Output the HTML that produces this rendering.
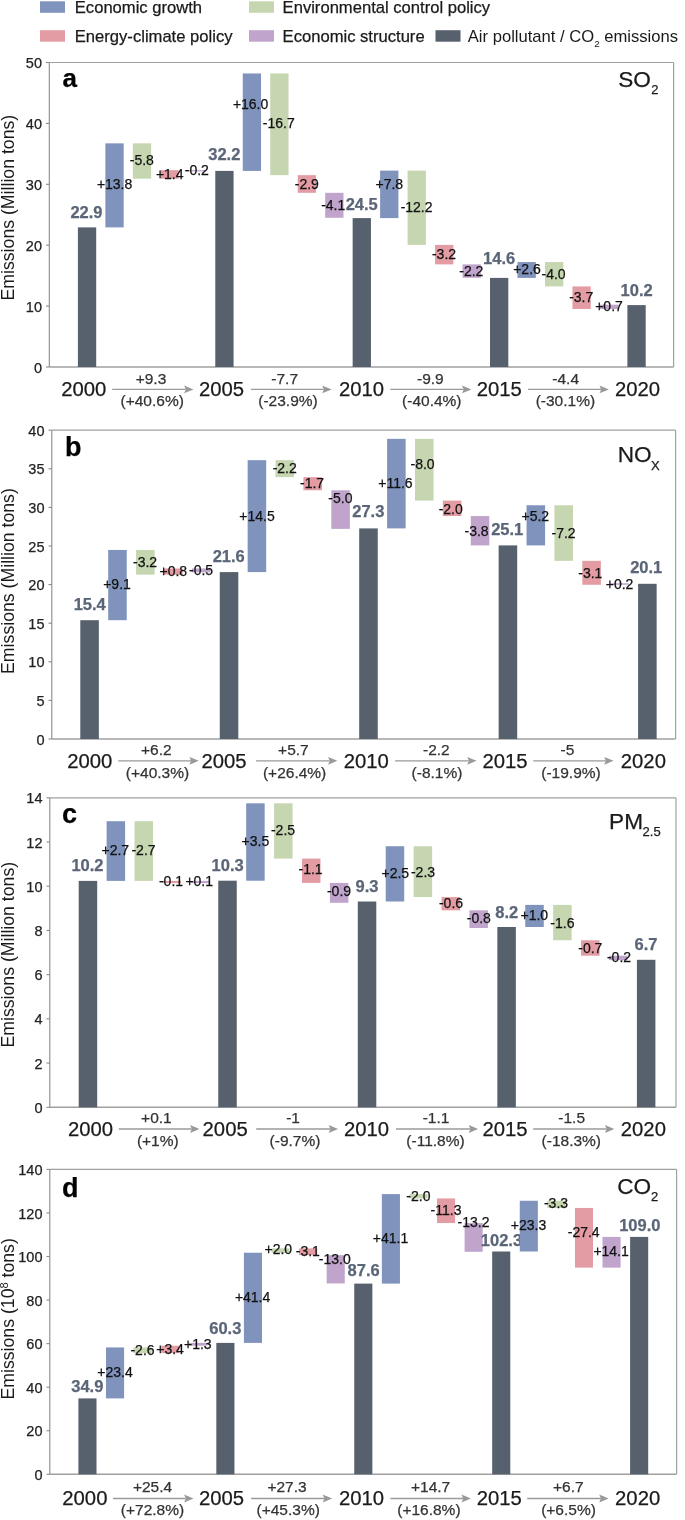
<!DOCTYPE html>
<html><head><meta charset="utf-8"><style>
html,body{margin:0;padding:0;background:#fff;}
body{width:685px;height:1520px;overflow:hidden;}
svg{display:block;font-family:"Liberation Sans", sans-serif;will-change:transform;}
</style></head><body>
<svg width="685" height="1520" viewBox="0 0 685 1520">
<rect x="40.00" y="1.30" width="25.00" height="11.50" fill="#7f93bd"/>
<text x="74.80" y="12.90" font-size="16.6" text-anchor="start" font-weight="normal" fill="#1a1a1a" stroke="#1a1a1a" stroke-width="0.25" >Economic growth</text>
<rect x="249.00" y="1.30" width="25.00" height="11.50" fill="#c6d6b0"/>
<text x="282.60" y="12.90" font-size="16.6" text-anchor="start" font-weight="normal" fill="#1a1a1a" stroke="#1a1a1a" stroke-width="0.25" >Environmental control policy</text>
<rect x="40.00" y="30.20" width="25.00" height="11.50" fill="#e39ca3"/>
<text x="74.80" y="41.70" font-size="16.6" text-anchor="start" font-weight="normal" fill="#1a1a1a" stroke="#1a1a1a" stroke-width="0.25" >Energy-climate policy</text>
<rect x="249.00" y="30.20" width="25.00" height="11.50" fill="#c0a4cc"/>
<text x="282.60" y="41.70" font-size="16.6" text-anchor="start" font-weight="normal" fill="#1a1a1a" stroke="#1a1a1a" stroke-width="0.25" >Economic structure</text>
<rect x="435.50" y="30.20" width="25.00" height="11.50" fill="#57606d"/>
<text x="467.8" y="41.7" font-size="16.6" fill="#1a1a1a">Air pollutant / CO<tspan font-size="9.8" dy="5.2">2</tspan><tspan dy="-5.2"> emissions</tspan></text>
<line x1="49.30" y1="62.50" x2="673.60" y2="62.50" stroke="#a0a0a0" stroke-width="1.2"/>
<line x1="673.60" y1="62.50" x2="673.60" y2="367.00" stroke="#a0a0a0" stroke-width="1.2"/>
<line x1="49.30" y1="367.00" x2="673.60" y2="367.00" stroke="#a0a0a0" stroke-width="1.4"/>
<line x1="49.30" y1="62.50" x2="49.30" y2="367.00" stroke="#8a8a8a" stroke-width="1.1"/>
<line x1="46.00" y1="367.00" x2="49.30" y2="367.00" stroke="#8a8a8a" stroke-width="1.1"/>
<text x="42.00" y="372.57" font-size="14.5" text-anchor="end" font-weight="normal" fill="#222" stroke="#222" stroke-width="0.25" >0</text>
<line x1="46.00" y1="306.10" x2="49.30" y2="306.10" stroke="#8a8a8a" stroke-width="1.1"/>
<text x="42.00" y="311.68" font-size="14.5" text-anchor="end" font-weight="normal" fill="#222" stroke="#222" stroke-width="0.25" >10</text>
<line x1="46.00" y1="245.20" x2="49.30" y2="245.20" stroke="#8a8a8a" stroke-width="1.1"/>
<text x="42.00" y="250.77" font-size="14.5" text-anchor="end" font-weight="normal" fill="#222" stroke="#222" stroke-width="0.25" >20</text>
<line x1="46.00" y1="184.30" x2="49.30" y2="184.30" stroke="#8a8a8a" stroke-width="1.1"/>
<text x="42.00" y="189.88" font-size="14.5" text-anchor="end" font-weight="normal" fill="#222" stroke="#222" stroke-width="0.25" >30</text>
<line x1="46.00" y1="123.40" x2="49.30" y2="123.40" stroke="#8a8a8a" stroke-width="1.1"/>
<text x="42.00" y="128.97" font-size="14.5" text-anchor="end" font-weight="normal" fill="#222" stroke="#222" stroke-width="0.25" >40</text>
<line x1="46.00" y1="62.50" x2="49.30" y2="62.50" stroke="#8a8a8a" stroke-width="1.1"/>
<text x="42.00" y="68.08" font-size="14.5" text-anchor="end" font-weight="normal" fill="#222" stroke="#222" stroke-width="0.25" >50</text>
<text transform="translate(14.2,207.65) rotate(-90)" font-size="17.7" text-anchor="middle" fill="#1a1a1a">Emissions (Million tons)</text>
<text x="62.40" y="87.40" font-size="26" text-anchor="start" font-weight="bold" fill="#000" stroke="#000" stroke-width="0.25" >a</text>
<text x="618.20" y="86.60" font-size="22.6" text-anchor="start" font-weight="normal" fill="#1a1a1a" stroke="#1a1a1a" stroke-width="0.25" >SO</text>
<text x="651.20" y="94.40" font-size="13" text-anchor="start" font-weight="normal" fill="#1a1a1a" stroke="#1a1a1a" stroke-width="0.25" >2</text>
<rect x="77.90" y="227.40" width="18.30" height="139.60" fill="#57606d"/>
<text x="86.50" y="218.18" font-size="16.5" text-anchor="middle" font-weight="bold" fill="#5a6577" stroke="#5a6577" stroke-width="0.25" >22.9</text>
<rect x="105.38" y="143.36" width="18.30" height="84.04" fill="#7f93bd"/>
<text x="114.60" y="189.40" font-size="14" text-anchor="middle" font-weight="normal" fill="#111" stroke="#111" stroke-width="0.25" >+13.8</text>
<rect x="132.85" y="143.36" width="18.30" height="35.32" fill="#c6d6b0"/>
<text x="141.80" y="164.80" font-size="14" text-anchor="middle" font-weight="normal" fill="#111" stroke="#111" stroke-width="0.25" >-5.8</text>
<rect x="160.33" y="170.15" width="18.30" height="8.53" fill="#e39ca3"/>
<text x="169.70" y="178.90" font-size="14" text-anchor="middle" font-weight="normal" fill="#111" stroke="#111" stroke-width="0.25" >+1.4</text>
<rect x="187.80" y="170.15" width="18.30" height="1.22" fill="#c0a4cc"/>
<text x="196.80" y="175.00" font-size="14" text-anchor="middle" font-weight="normal" fill="#111" stroke="#111" stroke-width="0.25" >-0.2</text>
<rect x="215.28" y="170.90" width="18.30" height="196.10" fill="#57606d"/>
<text x="224.30" y="159.97" font-size="16.5" text-anchor="middle" font-weight="bold" fill="#5a6577" stroke="#5a6577" stroke-width="0.25" >32.2</text>
<rect x="242.75" y="73.46" width="18.30" height="97.44" fill="#7f93bd"/>
<text x="250.60" y="109.40" font-size="14" text-anchor="middle" font-weight="normal" fill="#111" stroke="#111" stroke-width="0.25" >+16.0</text>
<rect x="270.23" y="73.46" width="18.30" height="101.70" fill="#c6d6b0"/>
<text x="278.80" y="128.40" font-size="14" text-anchor="middle" font-weight="normal" fill="#111" stroke="#111" stroke-width="0.25" >-16.7</text>
<rect x="297.70" y="175.16" width="18.30" height="17.66" fill="#e39ca3"/>
<text x="306.80" y="188.50" font-size="14" text-anchor="middle" font-weight="normal" fill="#111" stroke="#111" stroke-width="0.25" >-2.9</text>
<rect x="325.18" y="192.82" width="18.30" height="24.97" fill="#c0a4cc"/>
<text x="333.20" y="209.70" font-size="14" text-anchor="middle" font-weight="normal" fill="#111" stroke="#111" stroke-width="0.25" >-4.1</text>
<rect x="352.65" y="218.10" width="18.30" height="148.90" fill="#57606d"/>
<text x="361.70" y="210.28" font-size="16.5" text-anchor="middle" font-weight="bold" fill="#5a6577" stroke="#5a6577" stroke-width="0.25" >24.5</text>
<rect x="380.12" y="170.60" width="18.30" height="47.50" fill="#7f93bd"/>
<text x="389.30" y="189.10" font-size="14" text-anchor="middle" font-weight="normal" fill="#111" stroke="#111" stroke-width="0.25" >+7.8</text>
<rect x="407.60" y="170.60" width="18.30" height="74.30" fill="#c6d6b0"/>
<text x="416.60" y="212.30" font-size="14" text-anchor="middle" font-weight="normal" fill="#111" stroke="#111" stroke-width="0.25" >-12.2</text>
<rect x="435.08" y="244.90" width="18.30" height="19.49" fill="#e39ca3"/>
<text x="444.00" y="258.70" font-size="14" text-anchor="middle" font-weight="normal" fill="#111" stroke="#111" stroke-width="0.25" >-3.2</text>
<rect x="462.55" y="264.38" width="18.30" height="13.40" fill="#c0a4cc"/>
<text x="471.30" y="275.60" font-size="14" text-anchor="middle" font-weight="normal" fill="#111" stroke="#111" stroke-width="0.25" >-2.2</text>
<rect x="490.02" y="277.90" width="18.30" height="89.10" fill="#57606d"/>
<text x="499.10" y="263.77" font-size="16.5" text-anchor="middle" font-weight="bold" fill="#5a6577" stroke="#5a6577" stroke-width="0.25" >14.6</text>
<rect x="517.50" y="262.07" width="18.30" height="15.83" fill="#7f93bd"/>
<text x="527.00" y="273.50" font-size="14" text-anchor="middle" font-weight="normal" fill="#111" stroke="#111" stroke-width="0.25" >+2.6</text>
<rect x="544.98" y="262.07" width="18.30" height="24.36" fill="#c6d6b0"/>
<text x="553.60" y="278.50" font-size="14" text-anchor="middle" font-weight="normal" fill="#111" stroke="#111" stroke-width="0.25" >-4.0</text>
<rect x="572.45" y="286.43" width="18.30" height="22.53" fill="#e39ca3"/>
<text x="581.20" y="302.20" font-size="14" text-anchor="middle" font-weight="normal" fill="#111" stroke="#111" stroke-width="0.25" >-3.7</text>
<rect x="599.92" y="304.70" width="18.30" height="4.26" fill="#c0a4cc"/>
<text x="609.00" y="310.50" font-size="14" text-anchor="middle" font-weight="normal" fill="#111" stroke="#111" stroke-width="0.25" >+0.7</text>
<rect x="627.40" y="305.10" width="18.30" height="61.90" fill="#57606d"/>
<text x="636.60" y="295.77" font-size="16.5" text-anchor="middle" font-weight="bold" fill="#5a6577" stroke="#5a6577" stroke-width="0.25" >10.2</text>
<text x="61.20" y="395.50" font-size="20.3" text-anchor="start" font-weight="normal" fill="#1a1a1a" stroke="#1a1a1a" stroke-width="0.25" >2000</text>
<text x="198.90" y="395.50" font-size="20.3" text-anchor="start" font-weight="normal" fill="#1a1a1a" stroke="#1a1a1a" stroke-width="0.25" >2005</text>
<text x="338.90" y="395.50" font-size="20.3" text-anchor="start" font-weight="normal" fill="#1a1a1a" stroke="#1a1a1a" stroke-width="0.25" >2010</text>
<text x="476.70" y="395.50" font-size="20.3" text-anchor="start" font-weight="normal" fill="#1a1a1a" stroke="#1a1a1a" stroke-width="0.25" >2015</text>
<text x="614.90" y="395.50" font-size="20.3" text-anchor="start" font-weight="normal" fill="#1a1a1a" stroke="#1a1a1a" stroke-width="0.25" >2020</text>
<line x1="112.20" y1="389.40" x2="185.70" y2="389.40" stroke="#9a9a9a" stroke-width="1.3"/>
<path d="M193.50,389.40 L184.10,385.50 L185.80,389.40 L184.10,393.30 Z" fill="#999"/>
<text x="151.00" y="383.70" font-size="15.5" text-anchor="middle" font-weight="normal" fill="#333" stroke="#333" stroke-width="0.25" >+9.3</text>
<text x="152.20" y="406.20" font-size="15.5" text-anchor="middle" font-weight="normal" fill="#333" stroke="#333" stroke-width="0.25" >(+40.6%)</text>
<line x1="250.90" y1="389.40" x2="323.80" y2="389.40" stroke="#9a9a9a" stroke-width="1.3"/>
<path d="M331.60,389.40 L322.20,385.50 L323.90,389.40 L322.20,393.30 Z" fill="#999"/>
<text x="284.70" y="383.70" font-size="15.5" text-anchor="middle" font-weight="normal" fill="#333" stroke="#333" stroke-width="0.25" >-7.7</text>
<text x="288.00" y="406.20" font-size="15.5" text-anchor="middle" font-weight="normal" fill="#333" stroke="#333" stroke-width="0.25" >(-23.9%)</text>
<line x1="390.40" y1="389.40" x2="463.60" y2="389.40" stroke="#9a9a9a" stroke-width="1.3"/>
<path d="M471.40,389.40 L462.00,385.50 L463.70,389.40 L462.00,393.30 Z" fill="#999"/>
<text x="430.40" y="383.70" font-size="15.5" text-anchor="middle" font-weight="normal" fill="#333" stroke="#333" stroke-width="0.25" >-9.9</text>
<text x="431.80" y="406.20" font-size="15.5" text-anchor="middle" font-weight="normal" fill="#333" stroke="#333" stroke-width="0.25" >(-40.4%)</text>
<line x1="528.00" y1="389.40" x2="601.10" y2="389.40" stroke="#9a9a9a" stroke-width="1.3"/>
<path d="M608.90,389.40 L599.50,385.50 L601.20,389.40 L599.50,393.30 Z" fill="#999"/>
<text x="565.70" y="383.70" font-size="15.5" text-anchor="middle" font-weight="normal" fill="#333" stroke="#333" stroke-width="0.25" >-4.4</text>
<text x="565.40" y="406.20" font-size="15.5" text-anchor="middle" font-weight="normal" fill="#333" stroke="#333" stroke-width="0.25" >(-30.1%)</text>
<line x1="51.80" y1="430.20" x2="675.60" y2="430.20" stroke="#a0a0a0" stroke-width="1.2"/>
<line x1="675.60" y1="430.20" x2="675.60" y2="739.00" stroke="#a0a0a0" stroke-width="1.2"/>
<line x1="51.80" y1="739.00" x2="675.60" y2="739.00" stroke="#a0a0a0" stroke-width="1.4"/>
<line x1="51.80" y1="430.20" x2="51.80" y2="739.00" stroke="#8a8a8a" stroke-width="1.1"/>
<line x1="48.50" y1="739.00" x2="51.80" y2="739.00" stroke="#8a8a8a" stroke-width="1.1"/>
<text x="44.50" y="744.58" font-size="14.5" text-anchor="end" font-weight="normal" fill="#222" stroke="#222" stroke-width="0.25" >0</text>
<line x1="48.50" y1="700.40" x2="51.80" y2="700.40" stroke="#8a8a8a" stroke-width="1.1"/>
<text x="44.50" y="705.98" font-size="14.5" text-anchor="end" font-weight="normal" fill="#222" stroke="#222" stroke-width="0.25" >5</text>
<line x1="48.50" y1="661.80" x2="51.80" y2="661.80" stroke="#8a8a8a" stroke-width="1.1"/>
<text x="44.50" y="667.38" font-size="14.5" text-anchor="end" font-weight="normal" fill="#222" stroke="#222" stroke-width="0.25" >10</text>
<line x1="48.50" y1="623.20" x2="51.80" y2="623.20" stroke="#8a8a8a" stroke-width="1.1"/>
<text x="44.50" y="628.78" font-size="14.5" text-anchor="end" font-weight="normal" fill="#222" stroke="#222" stroke-width="0.25" >15</text>
<line x1="48.50" y1="584.60" x2="51.80" y2="584.60" stroke="#8a8a8a" stroke-width="1.1"/>
<text x="44.50" y="590.18" font-size="14.5" text-anchor="end" font-weight="normal" fill="#222" stroke="#222" stroke-width="0.25" >20</text>
<line x1="48.50" y1="546.00" x2="51.80" y2="546.00" stroke="#8a8a8a" stroke-width="1.1"/>
<text x="44.50" y="551.58" font-size="14.5" text-anchor="end" font-weight="normal" fill="#222" stroke="#222" stroke-width="0.25" >25</text>
<line x1="48.50" y1="507.40" x2="51.80" y2="507.40" stroke="#8a8a8a" stroke-width="1.1"/>
<text x="44.50" y="512.98" font-size="14.5" text-anchor="end" font-weight="normal" fill="#222" stroke="#222" stroke-width="0.25" >30</text>
<line x1="48.50" y1="468.80" x2="51.80" y2="468.80" stroke="#8a8a8a" stroke-width="1.1"/>
<text x="44.50" y="474.37" font-size="14.5" text-anchor="end" font-weight="normal" fill="#222" stroke="#222" stroke-width="0.25" >35</text>
<line x1="48.50" y1="430.20" x2="51.80" y2="430.20" stroke="#8a8a8a" stroke-width="1.1"/>
<text x="44.50" y="435.77" font-size="14.5" text-anchor="end" font-weight="normal" fill="#222" stroke="#222" stroke-width="0.25" >40</text>
<text transform="translate(14.2,581.05) rotate(-90)" font-size="17.7" text-anchor="middle" fill="#1a1a1a">Emissions (Million tons)</text>
<text x="65.00" y="456.30" font-size="27" text-anchor="start" font-weight="bold" fill="#000" stroke="#000" stroke-width="0.25" >b</text>
<text x="617.70" y="461.80" font-size="22.6" text-anchor="start" font-weight="normal" fill="#1a1a1a" stroke="#1a1a1a" stroke-width="0.25" >NO</text>
<text x="651.00" y="470.40" font-size="13" text-anchor="start" font-weight="normal" fill="#1a1a1a" stroke="#1a1a1a" stroke-width="0.25" >X</text>
<rect x="80.30" y="620.20" width="18.55" height="118.80" fill="#57606d"/>
<text x="89.70" y="609.77" font-size="16.5" text-anchor="middle" font-weight="bold" fill="#5a6577" stroke="#5a6577" stroke-width="0.25" >15.4</text>
<rect x="108.19" y="549.95" width="18.55" height="70.25" fill="#7f93bd"/>
<text x="117.00" y="589.30" font-size="14" text-anchor="middle" font-weight="normal" fill="#111" stroke="#111" stroke-width="0.25" >+9.1</text>
<rect x="136.08" y="549.95" width="18.55" height="24.70" fill="#c6d6b0"/>
<text x="145.10" y="567.20" font-size="14" text-anchor="middle" font-weight="normal" fill="#111" stroke="#111" stroke-width="0.25" >-3.2</text>
<rect x="163.97" y="568.48" width="18.55" height="6.18" fill="#e39ca3"/>
<text x="173.30" y="575.80" font-size="14" text-anchor="middle" font-weight="normal" fill="#111" stroke="#111" stroke-width="0.25" >+0.8</text>
<rect x="191.86" y="568.48" width="18.55" height="3.86" fill="#c0a4cc"/>
<text x="201.10" y="574.90" font-size="14" text-anchor="middle" font-weight="normal" fill="#111" stroke="#111" stroke-width="0.25" >-0.5</text>
<rect x="219.75" y="572.10" width="18.55" height="166.90" fill="#57606d"/>
<text x="228.70" y="561.57" font-size="16.5" text-anchor="middle" font-weight="bold" fill="#5a6577" stroke="#5a6577" stroke-width="0.25" >21.6</text>
<rect x="247.64" y="460.16" width="18.55" height="111.94" fill="#7f93bd"/>
<text x="257.00" y="520.70" font-size="14" text-anchor="middle" font-weight="normal" fill="#111" stroke="#111" stroke-width="0.25" >+14.5</text>
<rect x="275.53" y="460.16" width="18.55" height="16.98" fill="#c6d6b0"/>
<text x="284.70" y="473.30" font-size="14" text-anchor="middle" font-weight="normal" fill="#111" stroke="#111" stroke-width="0.25" >-2.2</text>
<rect x="303.42" y="477.14" width="18.55" height="13.12" fill="#e39ca3"/>
<text x="312.10" y="487.70" font-size="14" text-anchor="middle" font-weight="normal" fill="#111" stroke="#111" stroke-width="0.25" >-1.7</text>
<rect x="331.31" y="490.27" width="18.55" height="38.60" fill="#c0a4cc"/>
<text x="340.40" y="502.90" font-size="14" text-anchor="middle" font-weight="normal" fill="#111" stroke="#111" stroke-width="0.25" >-5.0</text>
<rect x="359.20" y="528.40" width="18.55" height="210.60" fill="#57606d"/>
<text x="368.30" y="517.48" font-size="16.5" text-anchor="middle" font-weight="bold" fill="#5a6577" stroke="#5a6577" stroke-width="0.25" >27.3</text>
<rect x="387.09" y="438.85" width="18.55" height="89.55" fill="#7f93bd"/>
<text x="395.40" y="488.10" font-size="14" text-anchor="middle" font-weight="normal" fill="#111" stroke="#111" stroke-width="0.25" >+11.6</text>
<rect x="414.98" y="438.85" width="18.55" height="61.76" fill="#c6d6b0"/>
<text x="422.60" y="469.30" font-size="14" text-anchor="middle" font-weight="normal" fill="#111" stroke="#111" stroke-width="0.25" >-8.0</text>
<rect x="442.87" y="500.61" width="18.55" height="15.44" fill="#e39ca3"/>
<text x="450.70" y="513.50" font-size="14" text-anchor="middle" font-weight="normal" fill="#111" stroke="#111" stroke-width="0.25" >-2.0</text>
<rect x="470.76" y="516.05" width="18.55" height="29.34" fill="#c0a4cc"/>
<text x="476.60" y="535.80" font-size="14" text-anchor="middle" font-weight="normal" fill="#111" stroke="#111" stroke-width="0.25" >-3.8</text>
<rect x="498.65" y="545.40" width="18.55" height="193.60" fill="#57606d"/>
<text x="507.20" y="534.98" font-size="16.5" text-anchor="middle" font-weight="bold" fill="#5a6577" stroke="#5a6577" stroke-width="0.25" >25.1</text>
<rect x="526.54" y="505.26" width="18.55" height="40.14" fill="#7f93bd"/>
<text x="535.30" y="520.70" font-size="14" text-anchor="middle" font-weight="normal" fill="#111" stroke="#111" stroke-width="0.25" >+5.2</text>
<rect x="554.43" y="505.26" width="18.55" height="55.58" fill="#c6d6b0"/>
<text x="563.60" y="537.60" font-size="14" text-anchor="middle" font-weight="normal" fill="#111" stroke="#111" stroke-width="0.25" >-7.2</text>
<rect x="582.32" y="560.84" width="18.55" height="23.93" fill="#e39ca3"/>
<text x="590.30" y="577.60" font-size="14" text-anchor="middle" font-weight="normal" fill="#111" stroke="#111" stroke-width="0.25" >-3.1</text>
<rect x="610.21" y="583.23" width="18.55" height="1.54" fill="#c0a4cc"/>
<text x="619.60" y="588.50" font-size="14" text-anchor="middle" font-weight="normal" fill="#111" stroke="#111" stroke-width="0.25" >+0.2</text>
<rect x="638.10" y="583.80" width="18.55" height="155.20" fill="#57606d"/>
<text x="646.20" y="572.98" font-size="16.5" text-anchor="middle" font-weight="bold" fill="#5a6577" stroke="#5a6577" stroke-width="0.25" >20.1</text>
<text x="67.20" y="767.50" font-size="20.3" text-anchor="start" font-weight="normal" fill="#1a1a1a" stroke="#1a1a1a" stroke-width="0.25" >2000</text>
<text x="201.50" y="767.50" font-size="20.3" text-anchor="start" font-weight="normal" fill="#1a1a1a" stroke="#1a1a1a" stroke-width="0.25" >2005</text>
<text x="343.70" y="767.50" font-size="20.3" text-anchor="start" font-weight="normal" fill="#1a1a1a" stroke="#1a1a1a" stroke-width="0.25" >2010</text>
<text x="482.40" y="767.50" font-size="20.3" text-anchor="start" font-weight="normal" fill="#1a1a1a" stroke="#1a1a1a" stroke-width="0.25" >2015</text>
<text x="620.80" y="767.50" font-size="20.3" text-anchor="start" font-weight="normal" fill="#1a1a1a" stroke="#1a1a1a" stroke-width="0.25" >2020</text>
<line x1="118.20" y1="760.80" x2="191.00" y2="760.80" stroke="#9a9a9a" stroke-width="1.3"/>
<path d="M198.80,760.80 L189.40,756.90 L191.10,760.80 L189.40,764.70 Z" fill="#999"/>
<text x="156.30" y="754.70" font-size="15.5" text-anchor="middle" font-weight="normal" fill="#333" stroke="#333" stroke-width="0.25" >+6.2</text>
<text x="157.50" y="777.80" font-size="15.5" text-anchor="middle" font-weight="normal" fill="#333" stroke="#333" stroke-width="0.25" >(+40.3%)</text>
<line x1="256.10" y1="760.80" x2="329.60" y2="760.80" stroke="#9a9a9a" stroke-width="1.3"/>
<path d="M337.40,760.80 L328.00,756.90 L329.70,760.80 L328.00,764.70 Z" fill="#999"/>
<text x="293.40" y="754.70" font-size="15.5" text-anchor="middle" font-weight="normal" fill="#333" stroke="#333" stroke-width="0.25" >+5.7</text>
<text x="294.60" y="777.80" font-size="15.5" text-anchor="middle" font-weight="normal" fill="#333" stroke="#333" stroke-width="0.25" >(+26.4%)</text>
<line x1="395.10" y1="760.80" x2="468.80" y2="760.80" stroke="#9a9a9a" stroke-width="1.3"/>
<path d="M476.60,760.80 L467.20,756.90 L468.90,760.80 L467.20,764.70 Z" fill="#999"/>
<text x="436.40" y="754.70" font-size="15.5" text-anchor="middle" font-weight="normal" fill="#333" stroke="#333" stroke-width="0.25" >-2.2</text>
<text x="437.00" y="777.80" font-size="15.5" text-anchor="middle" font-weight="normal" fill="#333" stroke="#333" stroke-width="0.25" >(-8.1%)</text>
<line x1="533.20" y1="760.80" x2="605.80" y2="760.80" stroke="#9a9a9a" stroke-width="1.3"/>
<path d="M613.60,760.80 L604.20,756.90 L605.90,760.80 L604.20,764.70 Z" fill="#999"/>
<text x="567.50" y="754.70" font-size="15.5" text-anchor="middle" font-weight="normal" fill="#333" stroke="#333" stroke-width="0.25" >-5</text>
<text x="571.00" y="777.80" font-size="15.5" text-anchor="middle" font-weight="normal" fill="#333" stroke="#333" stroke-width="0.25" >(-19.9%)</text>
<line x1="49.80" y1="797.80" x2="676.00" y2="797.80" stroke="#a0a0a0" stroke-width="1.2"/>
<line x1="676.00" y1="797.80" x2="676.00" y2="1107.30" stroke="#a0a0a0" stroke-width="1.2"/>
<line x1="49.80" y1="1107.30" x2="676.00" y2="1107.30" stroke="#a0a0a0" stroke-width="1.4"/>
<line x1="49.80" y1="797.80" x2="49.80" y2="1107.30" stroke="#8a8a8a" stroke-width="1.1"/>
<line x1="46.50" y1="1107.30" x2="49.80" y2="1107.30" stroke="#8a8a8a" stroke-width="1.1"/>
<text x="42.50" y="1112.88" font-size="14.5" text-anchor="end" font-weight="normal" fill="#222" stroke="#222" stroke-width="0.25" >0</text>
<line x1="46.50" y1="1063.09" x2="49.80" y2="1063.09" stroke="#8a8a8a" stroke-width="1.1"/>
<text x="42.50" y="1068.66" font-size="14.5" text-anchor="end" font-weight="normal" fill="#222" stroke="#222" stroke-width="0.25" >2</text>
<line x1="46.50" y1="1018.87" x2="49.80" y2="1018.87" stroke="#8a8a8a" stroke-width="1.1"/>
<text x="42.50" y="1024.45" font-size="14.5" text-anchor="end" font-weight="normal" fill="#222" stroke="#222" stroke-width="0.25" >4</text>
<line x1="46.50" y1="974.66" x2="49.80" y2="974.66" stroke="#8a8a8a" stroke-width="1.1"/>
<text x="42.50" y="980.23" font-size="14.5" text-anchor="end" font-weight="normal" fill="#222" stroke="#222" stroke-width="0.25" >6</text>
<line x1="46.50" y1="930.44" x2="49.80" y2="930.44" stroke="#8a8a8a" stroke-width="1.1"/>
<text x="42.50" y="936.02" font-size="14.5" text-anchor="end" font-weight="normal" fill="#222" stroke="#222" stroke-width="0.25" >8</text>
<line x1="46.50" y1="886.23" x2="49.80" y2="886.23" stroke="#8a8a8a" stroke-width="1.1"/>
<text x="42.50" y="891.80" font-size="14.5" text-anchor="end" font-weight="normal" fill="#222" stroke="#222" stroke-width="0.25" >10</text>
<line x1="46.50" y1="842.01" x2="49.80" y2="842.01" stroke="#8a8a8a" stroke-width="1.1"/>
<text x="42.50" y="847.59" font-size="14.5" text-anchor="end" font-weight="normal" fill="#222" stroke="#222" stroke-width="0.25" >12</text>
<line x1="46.50" y1="797.80" x2="49.80" y2="797.80" stroke="#8a8a8a" stroke-width="1.1"/>
<text x="42.50" y="803.38" font-size="14.5" text-anchor="end" font-weight="normal" fill="#222" stroke="#222" stroke-width="0.25" >14</text>
<text transform="translate(14.2,954.70) rotate(-90)" font-size="17.7" text-anchor="middle" fill="#1a1a1a">Emissions (Million tons)</text>
<text x="62.00" y="823.30" font-size="27" text-anchor="start" font-weight="bold" fill="#000" stroke="#000" stroke-width="0.25" >c</text>
<text x="609.10" y="828.90" font-size="22.6" text-anchor="start" font-weight="normal" fill="#1a1a1a" stroke="#1a1a1a" stroke-width="0.25" >PM</text>
<text x="642.60" y="836.40" font-size="13" text-anchor="start" font-weight="normal" fill="#1a1a1a" stroke="#1a1a1a" stroke-width="0.25" >2.5</text>
<rect x="78.70" y="880.90" width="18.50" height="226.40" fill="#57606d"/>
<text x="87.50" y="871.48" font-size="16.5" text-anchor="middle" font-weight="bold" fill="#5a6577" stroke="#5a6577" stroke-width="0.25" >10.2</text>
<rect x="106.61" y="821.21" width="18.50" height="59.69" fill="#7f93bd"/>
<text x="115.30" y="855.40" font-size="14" text-anchor="middle" font-weight="normal" fill="#111" stroke="#111" stroke-width="0.25" >+2.7</text>
<rect x="134.52" y="821.21" width="18.50" height="59.69" fill="#c6d6b0"/>
<text x="143.50" y="855.40" font-size="14" text-anchor="middle" font-weight="normal" fill="#111" stroke="#111" stroke-width="0.25" >-2.7</text>
<rect x="162.43" y="880.90" width="18.50" height="2.21" fill="#e39ca3"/>
<text x="171.00" y="886.40" font-size="14" text-anchor="middle" font-weight="normal" fill="#111" stroke="#111" stroke-width="0.25" >-0.1</text>
<rect x="190.34" y="880.90" width="18.50" height="2.21" fill="#c0a4cc"/>
<text x="199.20" y="886.40" font-size="14" text-anchor="middle" font-weight="normal" fill="#111" stroke="#111" stroke-width="0.25" >+0.1</text>
<rect x="218.25" y="880.70" width="18.50" height="226.60" fill="#57606d"/>
<text x="227.60" y="871.48" font-size="16.5" text-anchor="middle" font-weight="bold" fill="#5a6577" stroke="#5a6577" stroke-width="0.25" >10.3</text>
<rect x="246.16" y="803.33" width="18.50" height="77.38" fill="#7f93bd"/>
<text x="255.40" y="846.20" font-size="14" text-anchor="middle" font-weight="normal" fill="#111" stroke="#111" stroke-width="0.25" >+3.5</text>
<rect x="274.07" y="803.33" width="18.50" height="55.27" fill="#c6d6b0"/>
<text x="283.00" y="834.60" font-size="14" text-anchor="middle" font-weight="normal" fill="#111" stroke="#111" stroke-width="0.25" >-2.5</text>
<rect x="301.98" y="858.59" width="18.50" height="24.32" fill="#e39ca3"/>
<text x="310.60" y="873.70" font-size="14" text-anchor="middle" font-weight="normal" fill="#111" stroke="#111" stroke-width="0.25" >-1.1</text>
<rect x="329.89" y="882.91" width="18.50" height="19.90" fill="#c0a4cc"/>
<text x="339.00" y="895.80" font-size="14" text-anchor="middle" font-weight="normal" fill="#111" stroke="#111" stroke-width="0.25" >-0.9</text>
<rect x="357.80" y="901.50" width="18.50" height="205.80" fill="#57606d"/>
<text x="367.00" y="891.67" font-size="16.5" text-anchor="middle" font-weight="bold" fill="#5a6577" stroke="#5a6577" stroke-width="0.25" >9.3</text>
<rect x="385.71" y="846.23" width="18.50" height="55.27" fill="#7f93bd"/>
<text x="395.30" y="877.90" font-size="14" text-anchor="middle" font-weight="normal" fill="#111" stroke="#111" stroke-width="0.25" >+2.5</text>
<rect x="413.62" y="846.23" width="18.50" height="50.85" fill="#c6d6b0"/>
<text x="423.00" y="876.70" font-size="14" text-anchor="middle" font-weight="normal" fill="#111" stroke="#111" stroke-width="0.25" >-2.3</text>
<rect x="441.53" y="897.08" width="18.50" height="13.26" fill="#e39ca3"/>
<text x="451.00" y="907.90" font-size="14" text-anchor="middle" font-weight="normal" fill="#111" stroke="#111" stroke-width="0.25" >-0.6</text>
<rect x="469.44" y="910.34" width="18.50" height="17.69" fill="#c0a4cc"/>
<text x="478.80" y="922.90" font-size="14" text-anchor="middle" font-weight="normal" fill="#111" stroke="#111" stroke-width="0.25" >-0.8</text>
<rect x="497.35" y="927.00" width="18.50" height="180.30" fill="#57606d"/>
<text x="506.70" y="918.17" font-size="16.5" text-anchor="middle" font-weight="bold" fill="#5a6577" stroke="#5a6577" stroke-width="0.25" >8.2</text>
<rect x="525.26" y="904.89" width="18.50" height="22.11" fill="#7f93bd"/>
<text x="534.30" y="920.30" font-size="14" text-anchor="middle" font-weight="normal" fill="#111" stroke="#111" stroke-width="0.25" >+1.0</text>
<rect x="553.17" y="904.89" width="18.50" height="35.37" fill="#c6d6b0"/>
<text x="562.40" y="927.70" font-size="14" text-anchor="middle" font-weight="normal" fill="#111" stroke="#111" stroke-width="0.25" >-1.6</text>
<rect x="581.08" y="940.26" width="18.50" height="15.47" fill="#e39ca3"/>
<text x="590.30" y="952.50" font-size="14" text-anchor="middle" font-weight="normal" fill="#111" stroke="#111" stroke-width="0.25" >-0.7</text>
<rect x="608.99" y="955.74" width="18.50" height="4.42" fill="#c0a4cc"/>
<text x="619.00" y="962.10" font-size="14" text-anchor="middle" font-weight="normal" fill="#111" stroke="#111" stroke-width="0.25" >-0.2</text>
<rect x="636.90" y="959.80" width="18.50" height="147.50" fill="#57606d"/>
<text x="646.00" y="950.38" font-size="16.5" text-anchor="middle" font-weight="bold" fill="#5a6577" stroke="#5a6577" stroke-width="0.25" >6.7</text>
<text x="68.00" y="1136.20" font-size="20.3" text-anchor="start" font-weight="normal" fill="#1a1a1a" stroke="#1a1a1a" stroke-width="0.25" >2000</text>
<text x="202.60" y="1136.20" font-size="20.3" text-anchor="start" font-weight="normal" fill="#1a1a1a" stroke="#1a1a1a" stroke-width="0.25" >2005</text>
<text x="343.90" y="1136.20" font-size="20.3" text-anchor="start" font-weight="normal" fill="#1a1a1a" stroke="#1a1a1a" stroke-width="0.25" >2010</text>
<text x="482.40" y="1136.20" font-size="20.3" text-anchor="start" font-weight="normal" fill="#1a1a1a" stroke="#1a1a1a" stroke-width="0.25" >2015</text>
<text x="620.80" y="1136.20" font-size="20.3" text-anchor="start" font-weight="normal" fill="#1a1a1a" stroke="#1a1a1a" stroke-width="0.25" >2020</text>
<line x1="118.80" y1="1129.00" x2="191.70" y2="1129.00" stroke="#9a9a9a" stroke-width="1.3"/>
<path d="M199.50,1129.00 L190.10,1125.10 L191.80,1129.00 L190.10,1132.90 Z" fill="#999"/>
<text x="156.40" y="1122.60" font-size="15.5" text-anchor="middle" font-weight="normal" fill="#333" stroke="#333" stroke-width="0.25" >+0.1</text>
<text x="157.80" y="1146.20" font-size="15.5" text-anchor="middle" font-weight="normal" fill="#333" stroke="#333" stroke-width="0.25" >(+1%)</text>
<line x1="256.20" y1="1129.00" x2="330.30" y2="1129.00" stroke="#9a9a9a" stroke-width="1.3"/>
<path d="M338.10,1129.00 L328.70,1125.10 L330.40,1129.00 L328.70,1132.90 Z" fill="#999"/>
<text x="293.10" y="1122.60" font-size="15.5" text-anchor="middle" font-weight="normal" fill="#333" stroke="#333" stroke-width="0.25" >-1</text>
<text x="295.00" y="1146.20" font-size="15.5" text-anchor="middle" font-weight="normal" fill="#333" stroke="#333" stroke-width="0.25" >(-9.7%)</text>
<line x1="396.00" y1="1129.00" x2="470.30" y2="1129.00" stroke="#9a9a9a" stroke-width="1.3"/>
<path d="M478.10,1129.00 L468.70,1125.10 L470.40,1129.00 L468.70,1132.90 Z" fill="#999"/>
<text x="436.00" y="1122.60" font-size="15.5" text-anchor="middle" font-weight="normal" fill="#333" stroke="#333" stroke-width="0.25" >-1.1</text>
<text x="435.50" y="1146.20" font-size="15.5" text-anchor="middle" font-weight="normal" fill="#333" stroke="#333" stroke-width="0.25" >(-11.8%)</text>
<line x1="533.20" y1="1129.00" x2="606.50" y2="1129.00" stroke="#9a9a9a" stroke-width="1.3"/>
<path d="M614.30,1129.00 L604.90,1125.10 L606.60,1129.00 L604.90,1132.90 Z" fill="#999"/>
<text x="571.70" y="1122.60" font-size="15.5" text-anchor="middle" font-weight="normal" fill="#333" stroke="#333" stroke-width="0.25" >-1.5</text>
<text x="571.30" y="1146.20" font-size="15.5" text-anchor="middle" font-weight="normal" fill="#333" stroke="#333" stroke-width="0.25" >(-18.3%)</text>
<line x1="49.80" y1="1169.40" x2="676.60" y2="1169.40" stroke="#a0a0a0" stroke-width="1.2"/>
<line x1="676.60" y1="1169.40" x2="676.60" y2="1474.30" stroke="#a0a0a0" stroke-width="1.2"/>
<line x1="49.80" y1="1474.30" x2="676.60" y2="1474.30" stroke="#a0a0a0" stroke-width="1.4"/>
<line x1="49.80" y1="1169.40" x2="49.80" y2="1474.30" stroke="#8a8a8a" stroke-width="1.1"/>
<line x1="46.50" y1="1474.30" x2="49.80" y2="1474.30" stroke="#8a8a8a" stroke-width="1.1"/>
<text x="42.50" y="1479.88" font-size="14.5" text-anchor="end" font-weight="normal" fill="#222" stroke="#222" stroke-width="0.25" >0</text>
<line x1="46.50" y1="1430.74" x2="49.80" y2="1430.74" stroke="#8a8a8a" stroke-width="1.1"/>
<text x="42.50" y="1436.32" font-size="14.5" text-anchor="end" font-weight="normal" fill="#222" stroke="#222" stroke-width="0.25" >20</text>
<line x1="46.50" y1="1387.19" x2="49.80" y2="1387.19" stroke="#8a8a8a" stroke-width="1.1"/>
<text x="42.50" y="1392.76" font-size="14.5" text-anchor="end" font-weight="normal" fill="#222" stroke="#222" stroke-width="0.25" >40</text>
<line x1="46.50" y1="1343.63" x2="49.80" y2="1343.63" stroke="#8a8a8a" stroke-width="1.1"/>
<text x="42.50" y="1349.20" font-size="14.5" text-anchor="end" font-weight="normal" fill="#222" stroke="#222" stroke-width="0.25" >60</text>
<line x1="46.50" y1="1300.07" x2="49.80" y2="1300.07" stroke="#8a8a8a" stroke-width="1.1"/>
<text x="42.50" y="1305.65" font-size="14.5" text-anchor="end" font-weight="normal" fill="#222" stroke="#222" stroke-width="0.25" >80</text>
<line x1="46.50" y1="1256.51" x2="49.80" y2="1256.51" stroke="#8a8a8a" stroke-width="1.1"/>
<text x="42.50" y="1262.09" font-size="14.5" text-anchor="end" font-weight="normal" fill="#222" stroke="#222" stroke-width="0.25" >100</text>
<line x1="46.50" y1="1212.96" x2="49.80" y2="1212.96" stroke="#8a8a8a" stroke-width="1.1"/>
<text x="42.50" y="1218.53" font-size="14.5" text-anchor="end" font-weight="normal" fill="#222" stroke="#222" stroke-width="0.25" >120</text>
<line x1="46.50" y1="1169.40" x2="49.80" y2="1169.40" stroke="#8a8a8a" stroke-width="1.1"/>
<text x="42.50" y="1174.98" font-size="14.5" text-anchor="end" font-weight="normal" fill="#222" stroke="#222" stroke-width="0.25" >140</text>
<text transform="translate(14.2,1318.85) rotate(-90)" font-size="17.7" text-anchor="middle" fill="#1a1a1a">Emissions (10<tspan font-size="11" dy="-6">8</tspan><tspan dy="6"> tons)</tspan></text>
<text x="62.00" y="1197.20" font-size="27" text-anchor="start" font-weight="bold" fill="#000" stroke="#000" stroke-width="0.25" >d</text>
<text x="617.30" y="1193.50" font-size="22.6" text-anchor="start" font-weight="normal" fill="#1a1a1a" stroke="#1a1a1a" stroke-width="0.25" >CO</text>
<text x="651.00" y="1201.30" font-size="13" text-anchor="start" font-weight="normal" fill="#1a1a1a" stroke="#1a1a1a" stroke-width="0.25" >2</text>
<rect x="78.40" y="1398.40" width="18.10" height="75.90" fill="#57606d"/>
<text x="87.30" y="1392.48" font-size="16.5" text-anchor="middle" font-weight="bold" fill="#5a6577" stroke="#5a6577" stroke-width="0.25" >34.9</text>
<rect x="105.99" y="1347.44" width="18.10" height="50.96" fill="#7f93bd"/>
<text x="115.00" y="1377.10" font-size="14" text-anchor="middle" font-weight="normal" fill="#111" stroke="#111" stroke-width="0.25" >+23.4</text>
<rect x="133.57" y="1347.44" width="18.10" height="5.66" fill="#c6d6b0"/>
<text x="142.50" y="1354.70" font-size="14" text-anchor="middle" font-weight="normal" fill="#111" stroke="#111" stroke-width="0.25" >-2.6</text>
<rect x="161.16" y="1345.70" width="18.10" height="7.40" fill="#e39ca3"/>
<text x="170.10" y="1353.90" font-size="14" text-anchor="middle" font-weight="normal" fill="#111" stroke="#111" stroke-width="0.25" >+3.4</text>
<rect x="188.74" y="1342.86" width="18.10" height="2.83" fill="#c0a4cc"/>
<text x="197.80" y="1348.50" font-size="14" text-anchor="middle" font-weight="normal" fill="#111" stroke="#111" stroke-width="0.25" >+1.3</text>
<rect x="216.33" y="1342.90" width="18.10" height="131.40" fill="#57606d"/>
<text x="225.30" y="1334.38" font-size="16.5" text-anchor="middle" font-weight="bold" fill="#5a6577" stroke="#5a6577" stroke-width="0.25" >60.3</text>
<rect x="243.91" y="1252.74" width="18.10" height="90.16" fill="#7f93bd"/>
<text x="252.60" y="1302.20" font-size="14" text-anchor="middle" font-weight="normal" fill="#111" stroke="#111" stroke-width="0.25" >+41.4</text>
<rect x="271.50" y="1248.38" width="18.10" height="4.36" fill="#c6d6b0"/>
<text x="278.30" y="1254.10" font-size="14" text-anchor="middle" font-weight="normal" fill="#111" stroke="#111" stroke-width="0.25" >+2.0</text>
<rect x="299.08" y="1248.38" width="18.10" height="6.75" fill="#e39ca3"/>
<text x="307.80" y="1256.20" font-size="14" text-anchor="middle" font-weight="normal" fill="#111" stroke="#111" stroke-width="0.25" >-3.1</text>
<rect x="326.67" y="1255.13" width="18.10" height="28.31" fill="#c0a4cc"/>
<text x="334.80" y="1264.10" font-size="14" text-anchor="middle" font-weight="normal" fill="#111" stroke="#111" stroke-width="0.25" >-13.0</text>
<rect x="354.25" y="1283.60" width="18.10" height="190.70" fill="#57606d"/>
<text x="363.60" y="1276.38" font-size="16.5" text-anchor="middle" font-weight="bold" fill="#5a6577" stroke="#5a6577" stroke-width="0.25" >87.6</text>
<rect x="381.84" y="1194.09" width="18.10" height="89.51" fill="#7f93bd"/>
<text x="390.50" y="1243.00" font-size="14" text-anchor="middle" font-weight="normal" fill="#111" stroke="#111" stroke-width="0.25" >+41.1</text>
<rect x="409.42" y="1194.09" width="18.10" height="4.36" fill="#c6d6b0"/>
<text x="418.40" y="1200.90" font-size="14" text-anchor="middle" font-weight="normal" fill="#111" stroke="#111" stroke-width="0.25" >-2.0</text>
<rect x="437.00" y="1198.45" width="18.10" height="24.61" fill="#e39ca3"/>
<text x="446.00" y="1214.70" font-size="14" text-anchor="middle" font-weight="normal" fill="#111" stroke="#111" stroke-width="0.25" >-11.3</text>
<rect x="464.59" y="1223.06" width="18.10" height="28.75" fill="#c0a4cc"/>
<text x="473.50" y="1227.20" font-size="14" text-anchor="middle" font-weight="normal" fill="#111" stroke="#111" stroke-width="0.25" >-13.2</text>
<rect x="492.18" y="1251.50" width="18.10" height="222.80" fill="#57606d"/>
<text x="501.50" y="1246.08" font-size="16.5" text-anchor="middle" font-weight="bold" fill="#5a6577" stroke="#5a6577" stroke-width="0.25" >102.3</text>
<rect x="519.76" y="1200.76" width="18.10" height="50.74" fill="#7f93bd"/>
<text x="528.50" y="1229.80" font-size="14" text-anchor="middle" font-weight="normal" fill="#111" stroke="#111" stroke-width="0.25" >+23.3</text>
<rect x="547.35" y="1200.76" width="18.10" height="7.19" fill="#c6d6b0"/>
<text x="556.00" y="1208.00" font-size="14" text-anchor="middle" font-weight="normal" fill="#111" stroke="#111" stroke-width="0.25" >-3.3</text>
<rect x="574.93" y="1207.94" width="18.10" height="59.67" fill="#e39ca3"/>
<text x="583.70" y="1236.90" font-size="14" text-anchor="middle" font-weight="normal" fill="#111" stroke="#111" stroke-width="0.25" >-27.4</text>
<rect x="602.51" y="1236.91" width="18.10" height="30.71" fill="#c0a4cc"/>
<text x="611.10" y="1255.80" font-size="14" text-anchor="middle" font-weight="normal" fill="#111" stroke="#111" stroke-width="0.25" >+14.1</text>
<rect x="630.10" y="1236.90" width="18.10" height="237.40" fill="#57606d"/>
<text x="639.80" y="1231.48" font-size="16.5" text-anchor="middle" font-weight="bold" fill="#5a6577" stroke="#5a6577" stroke-width="0.25" >109.0</text>
<text x="62.30" y="1505.10" font-size="20.3" text-anchor="start" font-weight="normal" fill="#1a1a1a" stroke="#1a1a1a" stroke-width="0.25" >2000</text>
<text x="198.90" y="1505.10" font-size="20.3" text-anchor="start" font-weight="normal" fill="#1a1a1a" stroke="#1a1a1a" stroke-width="0.25" >2005</text>
<text x="338.90" y="1505.10" font-size="20.3" text-anchor="start" font-weight="normal" fill="#1a1a1a" stroke="#1a1a1a" stroke-width="0.25" >2010</text>
<text x="476.70" y="1505.10" font-size="20.3" text-anchor="start" font-weight="normal" fill="#1a1a1a" stroke="#1a1a1a" stroke-width="0.25" >2015</text>
<text x="615.10" y="1505.10" font-size="20.3" text-anchor="start" font-weight="normal" fill="#1a1a1a" stroke="#1a1a1a" stroke-width="0.25" >2020</text>
<line x1="113.10" y1="1498.50" x2="185.70" y2="1498.50" stroke="#9a9a9a" stroke-width="1.3"/>
<path d="M193.50,1498.50 L184.10,1494.60 L185.80,1498.50 L184.10,1502.40 Z" fill="#999"/>
<text x="152.50" y="1491.50" font-size="15.5" text-anchor="middle" font-weight="normal" fill="#333" stroke="#333" stroke-width="0.25" >+25.4</text>
<text x="152.50" y="1514.90" font-size="15.5" text-anchor="middle" font-weight="normal" fill="#333" stroke="#333" stroke-width="0.25" >(+72.8%)</text>
<line x1="251.10" y1="1498.50" x2="324.30" y2="1498.50" stroke="#9a9a9a" stroke-width="1.3"/>
<path d="M332.10,1498.50 L322.70,1494.60 L324.40,1498.50 L322.70,1502.40 Z" fill="#999"/>
<text x="287.00" y="1491.50" font-size="15.5" text-anchor="middle" font-weight="normal" fill="#333" stroke="#333" stroke-width="0.25" >+27.3</text>
<text x="288.20" y="1514.90" font-size="15.5" text-anchor="middle" font-weight="normal" fill="#333" stroke="#333" stroke-width="0.25" >(+45.3%)</text>
<line x1="390.40" y1="1498.50" x2="463.10" y2="1498.50" stroke="#9a9a9a" stroke-width="1.3"/>
<path d="M470.90,1498.50 L461.50,1494.60 L463.20,1498.50 L461.50,1502.40 Z" fill="#999"/>
<text x="430.60" y="1491.50" font-size="15.5" text-anchor="middle" font-weight="normal" fill="#333" stroke="#333" stroke-width="0.25" >+14.7</text>
<text x="428.90" y="1514.90" font-size="15.5" text-anchor="middle" font-weight="normal" fill="#333" stroke="#333" stroke-width="0.25" >(+16.8%)</text>
<line x1="527.20" y1="1498.50" x2="600.80" y2="1498.50" stroke="#9a9a9a" stroke-width="1.3"/>
<path d="M608.60,1498.50 L599.20,1494.60 L600.90,1498.50 L599.20,1502.40 Z" fill="#999"/>
<text x="568.30" y="1491.50" font-size="15.5" text-anchor="middle" font-weight="normal" fill="#333" stroke="#333" stroke-width="0.25" >+6.7</text>
<text x="568.50" y="1514.90" font-size="15.5" text-anchor="middle" font-weight="normal" fill="#333" stroke="#333" stroke-width="0.25" >(+6.5%)</text>
</svg>
</body></html>
